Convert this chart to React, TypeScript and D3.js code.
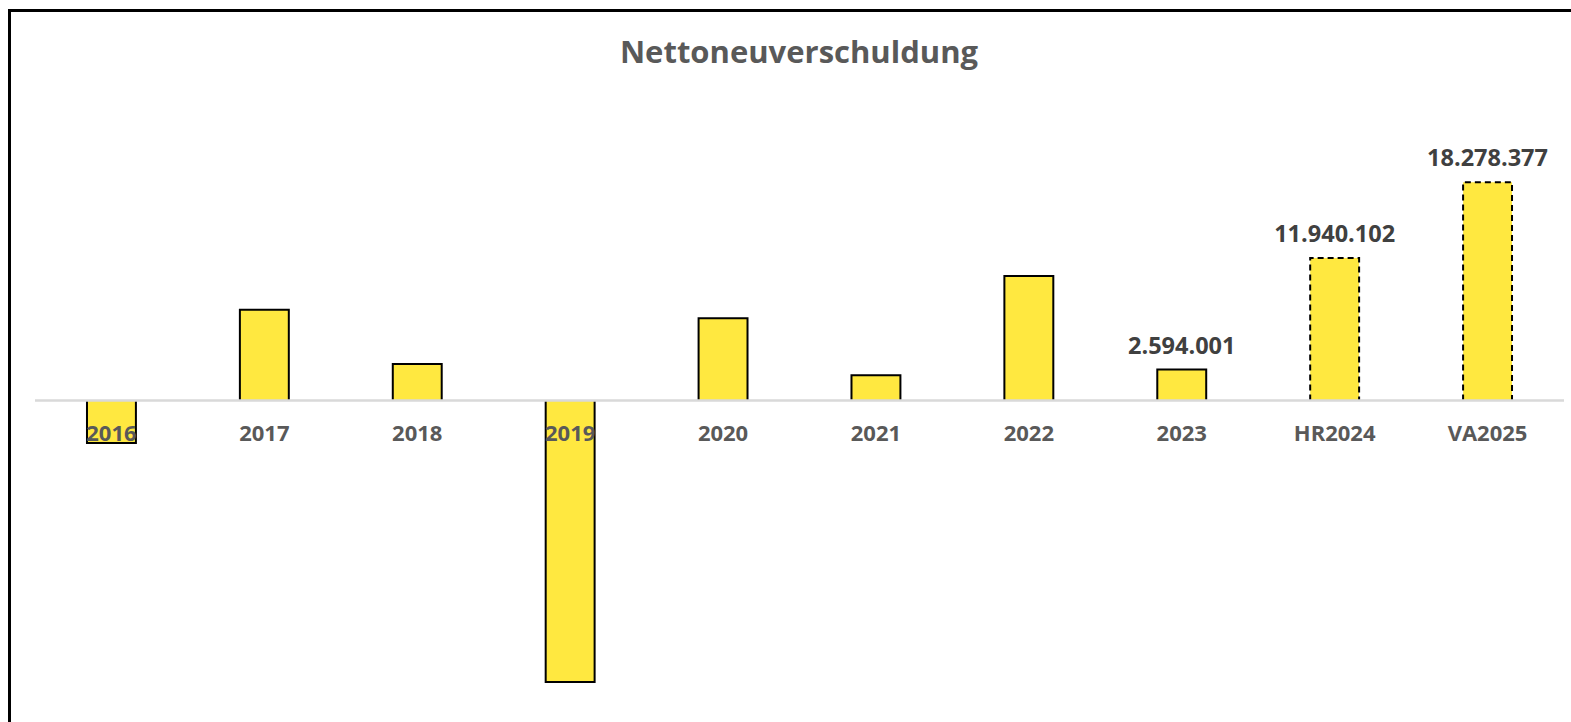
import React from "react";
import * as d3 from "d3";

const categories = ["2016", "2017", "2018", "2019", "2020", "2021", "2022", "2023", "HR2024", "VA2025"];
const values = [-3560000, 7600000, 3060000, -23580000, 6880000, 2110000, 10430000, 2594001, 11940102, 18278377];
const showLabel = [false, false, false, false, false, false, false, true, true, true];
const dashed = [false, false, false, false, false, false, false, false, true, true];
const title = "Nettoneuverschuldung";

const W = 1571;
const H = 722;
const FONT = "'Open Sans', 'Noto Sans', sans-serif";
const GRAY = "#595959";

const de = d3.formatLocale({ decimal: ",", thousands: ".", grouping: [3], currency: ["", "€"] });
const fmt = de.format(",d");

export default function App() {
  const x = d3.scaleBand<string>().domain(categories).range([35, 1564]).padding(0);
  const y = d3.scaleLinear().domain([-25e6, 20e6]).range([699, 161.7]);
  const barW = x.bandwidth() * 0.32;
  const y0 = y(0);

  return (
    <svg width={W} height={H} style={{ position: "absolute", left: 0, top: 0, background: "#fff" }}>
      <rect x={0} y={0} width={W} height={H} fill="#fff" />
      <line x1={9.5} y1={9} x2={9.5} y2={H} stroke="#000" strokeWidth={3} />
      <line x1={8} y1={10.5} x2={W} y2={10.5} stroke="#000" strokeWidth={3} />
      <text x={799} y={63} textAnchor="middle" fontFamily={FONT} fontWeight={700} fontSize={31} fill={GRAY}>
        {title}
      </text>
      {categories.map((c, i) => {
        const v = values[i];
        const cx = (x(c) as number) + x.bandwidth() / 2;
        const x0 = cx - barW / 2;
        const x1 = cx + barW / 2;
        const yv = y(v);
        const p = d3.path();
        p.moveTo(x0, y0);
        p.lineTo(x0, yv);
        p.lineTo(x1, yv);
        p.lineTo(x1, y0);
        return (
          <g key={c}>
            <rect x={x0} y={Math.min(yv, y0)} width={barW} height={Math.abs(yv - y0)} fill="#FFE840" />
            <path
              d={p.toString()}
              fill="none"
              stroke="#000"
              strokeWidth={2}
              strokeDasharray={dashed[i] ? "6 4" : undefined}
            />
          </g>
        );
      })}
      <line x1={35} y1={y0} x2={1564} y2={y0} stroke="#d9d9d9" strokeWidth={2.5} />
      {categories.map((c) => {
        const cx = (x(c) as number) + x.bandwidth() / 2;
        return (
          <text key={"l" + c} x={cx} y={441} textAnchor="middle" fontFamily={FONT} fontWeight={700} fontSize={22} fill={GRAY}>
            {c}
          </text>
        );
      })}
      {categories.map((c, i) => {
        if (!showLabel[i]) return null;
        const cx = (x(c) as number) + x.bandwidth() / 2;
        return (
          <text key={"v" + c} x={cx} y={y(values[i]) - 16} textAnchor="middle" fontFamily={FONT} fontWeight={700} fontSize={23.5} fill="#404040">
            {fmt(values[i])}
          </text>
        );
      })}
    </svg>
  );
}
